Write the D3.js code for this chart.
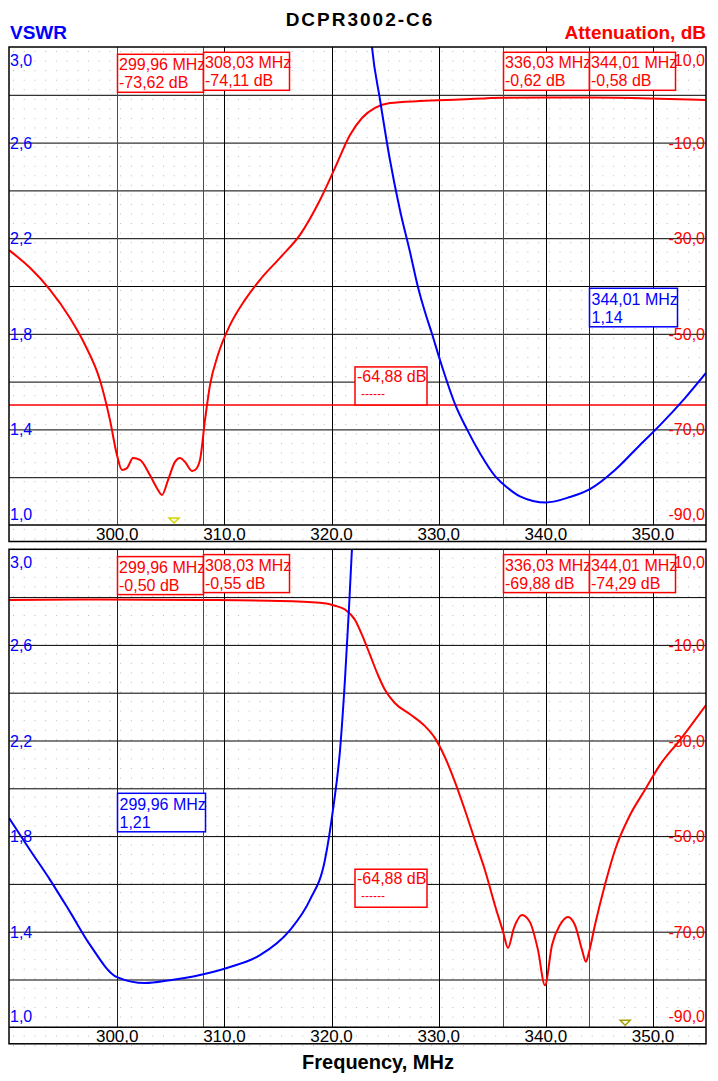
<!DOCTYPE html>
<html>
<head>
<meta charset="utf-8">
<script src="https://cdn.jsdelivr.net/npm/d3@7"></script>
<style>
  body { margin: 0; background: #fff; }
  text { font-family: "Liberation Sans", Arial, sans-serif; }
</style>
</head>
<body>
<script>
var svgWidth = 718;
var svgHeight = 1081;

// frequency axis
var freqDomain = [289.9, 354.94];
var freqTicks = [300, 310, 320, 330, 340, 350];
var vswrTicks = [3.0, 2.6, 2.2, 1.8, 1.4, 1.0];
var attTicks = [10, -10, -30, -50, -70, -90];

// top panel: attenuation (dB) and VSWR
var topAttFreq = [289.9, 291.86, 293.73, 295.59, 296.99, 298.39, 299.32, 299.98, 300.44, 300.91, 301.47, 302.12, 303.06, 303.71, 304.18, 304.74, 305.39, 305.86, 306.32, 306.98, 307.26, 307.72, 308.19, 308.66, 309.4, 310.52, 311.92, 313.32, 315.19, 317.05, 318.92, 320.32, 321.72, 322.84, 324.05, 325.45, 328.25, 331.98, 336.0, 340.38, 344.02, 349.71, 354.94];
var topAtt = [-32.5, -36.2, -40.8, -46.7, -52.3, -59.7, -68.0, -75.4, -78.5, -78.1, -76.0, -76.4, -79.6, -82.3, -83.7, -80.6, -76.8, -76.0, -76.8, -78.7, -78.5, -76.4, -68.0, -60.7, -54.4, -48.2, -42.9, -38.7, -34.1, -29.3, -22.0, -15.3, -8.4, -4.85, -2.76, -1.72, -1.3, -0.98, -0.62, -0.56, -0.58, -0.77, -1.09];
var topVswrFreq = [323.4, 323.77, 324.52, 325.45, 326.38, 327.32, 328.06, 328.72, 329.37, 330.12, 331.52, 332.64, 333.85, 335.34, 335.9, 337.58, 340.01, 342.25, 344.11, 346.45, 348.78, 350.65, 352.98, 354.94];
var topVswr = [3.2, 3.0, 2.78, 2.527, 2.318, 2.142, 1.996, 1.891, 1.80, 1.69, 1.506, 1.40, 1.30, 1.20, 1.176, 1.12, 1.094, 1.117, 1.15, 1.23, 1.335, 1.418, 1.531, 1.636];

// bottom panel
var botAttFreq = [289.9, 298.39, 307.72, 315.19, 318.92, 320.32, 321.25, 322.19, 322.84, 323.59, 324.33, 324.98, 325.92, 327.32, 328.72, 329.65, 330.58, 331.52, 332.45, 333.38, 334.31, 335.25, 335.99, 336.46, 337.02, 337.77, 338.51, 339.26, 339.91, 340.57, 341.31, 342.06, 342.71, 343.37, 343.74, 344.02, 344.58, 345.51, 346.45, 347.85, 349.25, 350.65, 352.51, 354.94];
var botAtt = [-0.6, -0.5, -0.6, -0.8, -1.2, -1.8, -2.6, -4.8, -7.9, -12.1, -16.3, -19.4, -22.2, -24.5, -27.0, -29.5, -33.5, -38.7, -44.6, -50.9, -57.1, -64.5, -69.9, -73.4, -69.2, -66.5, -68.0, -73.8, -81.2, -72.8, -68.6, -66.9, -68.6, -73.8, -76.3, -74.3, -68.6, -60.2, -52.9, -45.6, -40.3, -35.1, -29.9, -22.6];
var botVswrFreq = [289.9, 291.86, 293.73, 295.59, 297.46, 299.98, 302.59, 304.92, 307.72, 310.52, 313.32, 316.12, 317.98, 319.38, 320.13, 320.79, 321.25, 321.62, 321.9, 322.1];
var botVswr = [1.876, 1.742, 1.617, 1.483, 1.345, 1.21, 1.185, 1.197, 1.219, 1.252, 1.302, 1.407, 1.533, 1.70, 1.91, 2.16, 2.455, 2.748, 3.0, 3.2];

// markers
var markerFreqs = [299.96, 308.03, 336.03, 344.01];
var topMarkerAtt = [-73.62, -74.11, -0.62, -0.58];
var botMarkerAtt = [-0.50, -0.55, -69.88, -74.29];
var limitAtt = -64.88;
var topVswrMarker = { freq: 344.01, vswr: 1.14 };
var botVswrMarker = { freq: 299.96, vswr: 1.21 };
var topTriangleFreq = 305.3;
var botTriangleFreq = 347.4;

var chartLeft = 9, chartRight = 706;
var plotHeight = 478, stripHeight = 16.5;
var panelTops = [47, 549.3];

// decimal comma and plain hyphen minus, like the original software
var locale = d3.formatLocale({ decimal: ",", thousands: ".", grouping: [3], currency: ["", ""], minus: "-" });
var fmt1 = locale.format(".1f");
var fmt2 = locale.format(".2f");

var svg = d3.select("body").append("svg")
  .attr("width", svgWidth)
  .attr("height", svgHeight);

var defs = svg.append("defs");
var x = d3.scaleLinear().domain(freqDomain).range([chartLeft, chartRight]);

// dotted background
var pat = defs.append("pattern")
  .attr("id", "dots")
  .attr("patternUnits", "userSpaceOnUse")
  .attr("x", chartLeft + 4).attr("y", 47 + 4)
  .attr("width", x(291) - x(290)).attr("height", plotHeight / 50);
pat.append("rect").attr("width", 1).attr("height", 1).attr("fill", "#b8b8b8");

svg.append("rect")
  .attr("x", chartLeft).attr("y", 47)
  .attr("width", chartRight - chartLeft).attr("height", 1001)
  .attr("fill", "url(#dots)");

// titles
svg.append("text").attr("x", 360).attr("y", 26)
  .attr("text-anchor", "middle").attr("font-weight", "bold").attr("font-size", 19)
  .attr("letter-spacing", 2)
  .text("DCPR3002-C6");
svg.append("text").attr("x", 10).attr("y", 39)
  .attr("font-weight", "bold").attr("font-size", 19).attr("fill", "#0000ff")
  .text("VSWR");
svg.append("text").attr("x", 706).attr("y", 39)
  .attr("text-anchor", "end").attr("font-weight", "bold").attr("font-size", 19).attr("fill", "#ff0000")
  .text("Attenuation, dB");
svg.append("text").attr("x", 378).attr("y", 1069)
  .attr("text-anchor", "middle").attr("font-weight", "bold").attr("font-size", 20)
  .text("Frequency, MHz");

function drawPanel(idx, cfg) {
  var top = panelTops[idx];
  var bottom = top + plotHeight;
  var yAtt = d3.scaleLinear().domain([10, -90]).range([top, bottom]);
  var yV = d3.scaleLinear().domain([3, 1]).range([top, bottom]);
  var g = svg.append("g");

  defs.append("clipPath").attr("id", "clip" + idx)
    .append("rect")
    .attr("x", chartLeft).attr("y", top)
    .attr("width", chartRight - chartLeft).attr("height", plotHeight);

  // grid
  g.selectAll(".hgrid").data(d3.range(0, -81, -10)).enter()
    .append("line")
    .attr("x1", chartLeft).attr("x2", chartRight)
    .attr("y1", d => yAtt(d) + 0.5).attr("y2", d => yAtt(d) + 0.5)
    .attr("stroke", "#000").attr("stroke-width", 1);
  g.selectAll(".vgrid").data(freqTicks).enter()
    .append("line")
    .attr("x1", d => Math.round(x(d)) + 0.5).attr("x2", d => Math.round(x(d)) + 0.5)
    .attr("y1", top).attr("y2", bottom)
    .attr("stroke", "#000").attr("stroke-width", 1);

  var clipped = g.append("g").attr("clip-path", "url(#clip" + idx + ")");

  // limit line
  if (cfg.showLimit) {
    clipped.append("line")
      .attr("x1", chartLeft).attr("x2", chartRight)
      .attr("y1", yAtt(limitAtt)).attr("y2", yAtt(limitAtt))
      .attr("stroke", "#ff0000").attr("stroke-width", 1.5);
  }

  // marker lines
  clipped.selectAll(".mline").data(markerFreqs).enter()
    .append("line")
    .attr("x1", d => Math.round(x(d)) + 0.5).attr("x2", d => Math.round(x(d)) + 0.5)
    .attr("y1", top).attr("y2", bottom)
    .attr("stroke", "#ff0000").attr("stroke-width", 1);
  clipped.append("line")
    .attr("x1", Math.round(x(cfg.vMarker.freq)) + 0.5).attr("x2", Math.round(x(cfg.vMarker.freq)) + 0.5)
    .attr("y1", top).attr("y2", bottom)
    .attr("stroke", "#0000ff").attr("stroke-width", 1);

  // curves
  var attLine = d3.line().x(d => x(d[0])).y(d => yAtt(d[1])).curve(d3.curveMonotoneX);
  var vLine = d3.line().x(d => x(d[0])).y(d => yV(d[1])).curve(d3.curveMonotoneX);
  clipped.append("path")
    .attr("d", attLine(d3.zip(cfg.attFreq, cfg.att)))
    .attr("fill", "none").attr("stroke", "#ff0000").attr("stroke-width", 2);
  clipped.append("path")
    .attr("d", vLine(d3.zip(cfg.vFreq, cfg.vswr)))
    .attr("fill", "none").attr("stroke", "#0000ff").attr("stroke-width", 2);

  // axis labels
  g.selectAll(".vl").data(vswrTicks).enter()
    .append("text")
    .attr("x", chartLeft + 1)
    .attr("y", (d, i) => i == 0 ? top + 19 : (i == vswrTicks.length - 1 ? bottom - 5 : yV(d) + 6))
    .attr("font-size", 16).attr("fill", "#0000ff")
    .text(fmt1);
  g.selectAll(".al").data(attTicks).enter()
    .append("text")
    .attr("x", chartRight - 1).attr("text-anchor", "end")
    .attr("y", (d, i) => i == 0 ? top + 19 : (i == attTicks.length - 1 ? bottom - 5 : yAtt(d) + 6))
    .attr("font-size", 16).attr("fill", "#ff0000")
    .text(fmt1);

  // attenuation marker boxes
  markerFreqs.forEach(function (f, i) {
    var bx = Math.round(x(f)) + 0.5, by = top + (i == 0 ? 7.3 : 5.3);
    var mg = g.append("g");
    mg.append("rect").attr("x", bx).attr("y", by).attr("width", 86).attr("height", 38)
      .attr("fill", "#fff").attr("stroke", "#ff0000").attr("stroke-width", 1.5);
    mg.append("text").attr("x", bx + 1.5).attr("y", by + 16).attr("font-size", 16).attr("fill", "#ff0000")
      .text(fmt2(f) + " MHz");
    mg.append("text").attr("x", bx + 1.5).attr("y", by + 34).attr("font-size", 16).attr("fill", "#ff0000")
      .text(fmt2(cfg.markerAtt[i]) + " dB");
  });

  // limit box
  var ly = yAtt(limitAtt);
  g.append("rect").attr("x", 355).attr("y", ly - 38).attr("width", 72).attr("height", 38)
    .attr("fill", "#fff").attr("stroke", "#ff0000").attr("stroke-width", 1.5);
  g.append("text").attr("x", 357).attr("y", ly - 23).attr("font-size", 16).attr("fill", "#ff0000")
    .text(fmt2(limitAtt) + " dB");
  g.append("text").attr("x", 361).attr("y", ly - 7).attr("font-size", 12).attr("fill", "#ff0000")
    .text("------");

  // VSWR marker box
  var vx = Math.round(x(cfg.vMarker.freq)) + 0.5, vy = top + cfg.vBoxOffset;
  g.append("rect").attr("x", vx).attr("y", vy).attr("width", 88).attr("height", 38.5)
    .attr("fill", "#fff").attr("stroke", "#0000ff").attr("stroke-width", 1.5);
  g.append("text").attr("x", vx + 2).attr("y", vy + 17).attr("font-size", 16).attr("fill", "#0000ff")
    .text(fmt2(cfg.vMarker.freq) + " MHz");
  g.append("text").attr("x", vx + 2).attr("y", vy + 35).attr("font-size", 16).attr("fill", "#0000ff")
    .text(fmt2(cfg.vMarker.vswr));

  // small triangle marker
  var tx = x(cfg.triFreq);
  g.append("path")
    .attr("d", `M${tx - 5},${bottom - 7} L${tx + 5},${bottom - 7} L${tx},${bottom - 2} Z`)
    .attr("fill", "none").attr("stroke", cfg.triColor).attr("stroke-width", 1.5);

  // frequency axis strip
  g.selectAll(".xl").data(freqTicks).enter()
    .append("text")
    .attr("x", d => x(d)).attr("y", bottom + 14.5)
    .attr("text-anchor", "middle").attr("font-size", 17).attr("fill", "#000")
    .text(fmt1);

  // frame
  g.append("rect").attr("x", chartLeft).attr("y", top)
    .attr("width", chartRight - chartLeft).attr("height", plotHeight + stripHeight)
    .attr("fill", "none").attr("stroke", "#000").attr("stroke-width", 1.5);
  g.append("line").attr("x1", chartLeft).attr("x2", chartRight)
    .attr("y1", bottom).attr("y2", bottom)
    .attr("stroke", "#000").attr("stroke-width", 1.5);
}

drawPanel(0, {
  attFreq: topAttFreq, att: topAtt, vFreq: topVswrFreq, vswr: topVswr,
  markerAtt: topMarkerAtt, vMarker: topVswrMarker, vBoxOffset: 241.3,
  showLimit: true, triFreq: topTriangleFreq, triColor: "#d4d400"
});
drawPanel(1, {
  attFreq: botAttFreq, att: botAtt, vFreq: botVswrFreq, vswr: botVswr,
  markerAtt: botMarkerAtt, vMarker: botVswrMarker, vBoxOffset: 244,
  showLimit: false, triFreq: botTriangleFreq, triColor: "#a0a000"
});
</script>
</body>
</html>
